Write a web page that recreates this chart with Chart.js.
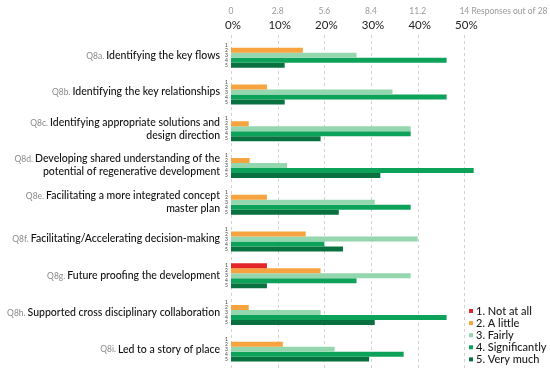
<!DOCTYPE html>
<html><head><meta charset="utf-8">
<script src="https://cdn.jsdelivr.net/npm/chart.js"></script>
<style>html,body{margin:0;padding:0;background:#fff;}#wrap{width:550px;height:377px;position:relative;}</style>
</head><body><div id="wrap"><canvas id="c" width="550" height="377"></canvas></div>
<script>
const qCodes = ['Q8a.','Q8b.','Q8c.','Q8d.','Q8e.','Q8f.','Q8g.','Q8h.','Q8i.'];
const categories = [
  ['Identifying the key flows'],
  ['Identifying the key relationships'],
  ['Identifying appropriate solutions and','design direction'],
  ['Developing shared understanding of the','potential of regenerative development'],
  ['Facilitating a more integrated concept','master plan'],
  ['Facilitating/Accelerating decision-making'],
  ['Future proofing the development'],
  ['Supported cross disciplinary collaboration'],
  ['Led to a story of place']
];
const seriesNames = ['1. Not at all','2. A little','3. Fairly','4. Significantly','5. Very much'];
const notAtAll      = [0,0,0,0,0,0,7.7,0,0];
const aLittle       = [15.4,7.7,3.8,4.0,7.7,16,19.2,3.8,11.1];
const fairly        = [26.9,34.6,38.5,12,30.8,40,38.5,19.2,22.2];
const significantly = [46.2,46.2,38.5,52,38.5,20,26.9,46.2,37.0];
const veryMuch      = [11.5,11.5,19.2,32,23.1,24,7.7,30.8,29.6];
const pctTicks = [0,10,20,30,40,50];
const countTicks = ['0','2.8','5.6','8.4','11.2','14'];
const countSuffix = ' Responses out of 28';
const colors = ['#e4262b','#f7a440','#94d6ad','#0da259','#09713f'];

const FONT = 'Lato, "Open Sans", sans-serif';

const drawPlugin = {
  id: 'custom',
  afterDraw(chart) {
    const ctx = chart.ctx;
    const xs = chart.scales.x, ys = chart.scales.y;
    const left = chart.chartArea.left;
    ctx.save();
    // top tick rows
    pctTicks.forEach((v, i) => {
      const px = xs.getPixelForValue(v);
      ctx.textBaseline = 'middle';
      ctx.font = '8.5px ' + FONT;
      ctx.fillStyle = '#999';
      if (i === pctTicks.length - 1) {
        const w = ctx.measureText(countTicks[i]).width;
        ctx.textAlign = 'left';
        ctx.fillText(countTicks[i] + countSuffix, px - w / 2, 11);
      } else {
        ctx.textAlign = 'center';
        ctx.fillText(countTicks[i], px, 11);
      }
      ctx.font = '11.5px ' + FONT;
      ctx.fillStyle = '#222';
      ctx.textAlign = 'center';
      ctx.fillText(v + '%', px + 2, 25);
    });
    // category labels
    categories.forEach((lines, i) => {
      const cy = ys.getPixelForValue(i);
      const n = lines.length;
      const lh = 13;
      lines.forEach((ln, k) => {
        const y = cy + (k - (n - 1) / 2) * lh;
        ctx.textBaseline = 'middle';
        ctx.textAlign = 'right';
        ctx.font = '500 10.5px ' + FONT;
        ctx.fillStyle = '#111';
        const rx = left - 11;
        ctx.fillText(ln, rx, y);
        if (k === 0) {
          const w = ctx.measureText(ln).width;
          ctx.font = '8.5px ' + FONT;
          ctx.fillStyle = '#8a8a8a';
          ctx.fillText(qCodes[i], rx - w - 2, y + 0.5);
        }
      });
    });
    // small series numbers per bar
    ctx.font = '5px ' + FONT;
    ctx.fillStyle = '#444';
    ctx.textAlign = 'right';
    ctx.textBaseline = 'middle';
    chart.data.datasets.forEach((ds, d) => {
      const meta = chart.getDatasetMeta(d);
      meta.data.forEach(el => {
        ctx.fillText(String(d + 1), left - 3, el.y);
      });
    });
    // legend
    const lx = 469, ly0 = 311, lstep = 12.1;
    seriesNames.forEach((name, d) => {
      const y = ly0 + d * lstep;
      ctx.fillStyle = colors[d];
      ctx.fillRect(lx, y - 2, 4, 4);
      ctx.font = '500 11px ' + FONT;
      ctx.fillStyle = '#1a1a1a';
      ctx.textAlign = 'left';
      ctx.textBaseline = 'middle';
      ctx.fillText(name, lx + 7, y);
    });
    ctx.restore();
  }
};

const series = [notAtAll, aLittle, fairly, significantly, veryMuch];
new Chart(document.getElementById('c'), {
  type: 'bar',
  data: {
    labels: categories.map(c => c.join(' ')),
    datasets: series.map((vals, d) => ({
      label: seriesNames[d],
      data: vals,
      backgroundColor: colors[d],
      borderWidth: 0,
      categoryPercentage: 0.68,
      barPercentage: 1.0
    }))
  },
  options: {
    indexAxis: 'y',
    responsive: false,
    animation: false,
    layout: { padding: { left: 231, right: 39, top: 37, bottom: 9.5 } },
    plugins: { legend: { display: false }, tooltip: { enabled: false } },
    scales: {
      x: {
        position: 'top',
        min: 0, max: 60,
        afterBuildTicks(s) { s.ticks = pctTicks.map(v => ({ value: v })); },
        afterFit(s) { s.height = 0; },
        ticks: { display: false },
        border: { display: false },
        grid: { display: false }
      },
      y: {
        display: false
      }
    }
  },
  plugins: [drawPlugin, {
    id: 'dashgrid',
    beforeDatasetsDraw(chart) {
      const xs = chart.scales.x;
      const ctx = chart.ctx;
      ctx.save();
      ctx.strokeStyle = '#d2d2d2';
      ctx.lineWidth = 1;
      ctx.setLineDash([3, 3]);
      pctTicks.forEach(v => {
        const px = Math.round(xs.getPixelForValue(v)) + 0.5;
        ctx.beginPath();
        ctx.moveTo(px, 35);
        ctx.lineTo(px, 370);
        ctx.stroke();
      });
      ctx.restore();
    }
  }]
});
</script></body></html>
